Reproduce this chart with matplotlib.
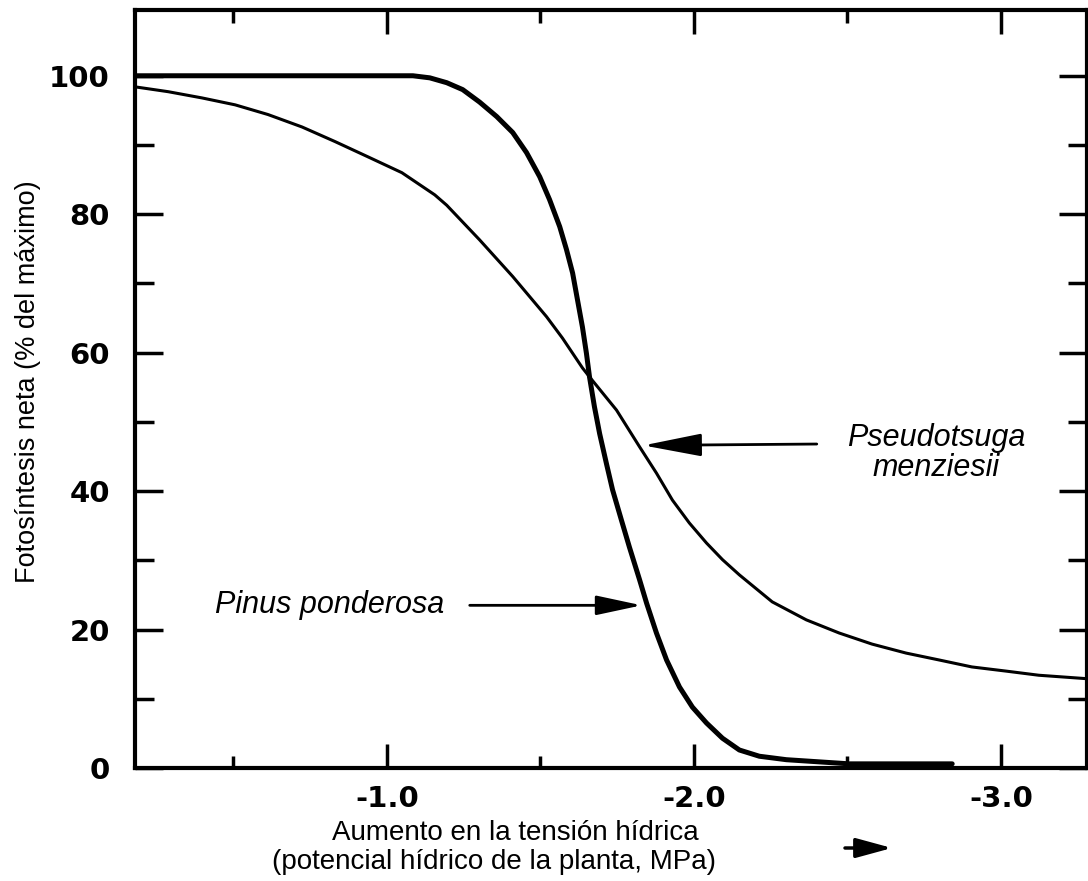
import matplotlib
matplotlib.use('Agg')
import matplotlib.pyplot as plt

# potencial hídrico (MPa) y fotosíntesis neta (% del máximo)
pinus_x = [-0.18, -0.72, -0.98, -1.085, -1.14, -1.195, -1.247, -1.302, -1.358, -1.41, -1.455,
           -1.498, -1.53, -1.563, -1.585, -1.605, -1.621, -1.637, -1.65, -1.66, -1.676, -1.693,
           -1.715, -1.735, -1.764, -1.79, -1.823, -1.846, -1.878, -1.911, -1.953, -1.995, -2.041,
           -2.093, -2.148, -2.213, -2.301, -2.506, -2.841]
pinus_y = [100, 100, 100, 100, 99.7, 99.0, 98.0, 96.2, 94.1, 91.8, 88.9,
           85.4, 82.1, 78.2, 74.9, 71.5, 67.6, 63.7, 59.9, 56.5, 52.2, 48.3,
           44.0, 40.2, 35.8, 31.9, 27.2, 23.8, 19.5, 15.6, 11.7, 8.8, 6.5,
           4.3, 2.6, 1.7, 1.2, 0.6, 0.6]

pseudo_x = [-0.18, -0.288, -0.398, -0.506, -0.613, -0.724, -0.831, -0.938, -1.049, -1.156, -1.195,
            -1.302, -1.41, -1.52, -1.572, -1.637, -1.66, -1.748, -1.823, -1.878, -1.93, -1.985,
            -2.041, -2.093, -2.148, -2.255, -2.366, -2.473, -2.58, -2.691, -2.799, -2.905, -3.016,
            -3.123, -3.28]
pseudo_y = [98.4, 97.7, 96.8, 95.8, 94.4, 92.6, 90.5, 88.3, 86.0, 82.8, 81.3,
            76.3, 71.0, 65.2, 62.1, 57.8, 56.5, 51.7, 46.4, 42.6, 38.7, 35.4,
            32.5, 30.1, 27.9, 24.0, 21.4, 19.5, 17.9, 16.6, 15.6, 14.6, 14.0,
            13.4, 12.9]

x_major = [-1.0, -2.0, -3.0]
x_major_labels = ['-1.0', '-2.0', '-3.0']
x_minor = [-0.5, -1.5, -2.5]
y_major = [0, 20, 40, 60, 80, 100]
y_minor = [10, 30, 50, 70, 90]

fig = plt.figure(figsize=(10.88, 8.81), dpi=100)
ax = fig.add_axes([135 / 1088, 1 - 768 / 881, 952 / 1088, 758 / 881])

ax.plot(pinus_x, pinus_y, color='black', lw=3.6, solid_capstyle='round', solid_joinstyle='round')
ax.plot(pseudo_x, pseudo_y, color='black', lw=2.2, solid_capstyle='round', solid_joinstyle='round')

ax.set_xlim(-0.18, -3.28)
ax.set_ylim(0, 109.5)

ax.set_xticks(x_major)
ax.set_xticklabels(x_major_labels)
ax.set_xticks(x_minor, minor=True)
ax.set_yticks(y_major)
ax.set_yticks(y_minor, minor=True)

for s in ax.spines.values():
    s.set_linewidth(3)

ax.tick_params(axis='both', which='both', direction='in', top=True, right=True, width=2.5)
ax.tick_params(axis='x', which='major', length=17, pad=12)
ax.tick_params(axis='x', which='minor', length=9)
ax.tick_params(axis='y', which='major', length=20, pad=18)
ax.tick_params(axis='y', which='minor', length=14)
for lab in ax.get_xticklabels() + ax.get_yticklabels():
    lab.set_fontsize(21)
    lab.set_fontweight('bold')
    lab.set_family('DejaVu Sans')

fig.text(28 / 1088, 1 - 382 / 881, 'Fotosíntesis neta (% del máximo)', rotation=90,
         ha='center', va='center', fontsize=19.5, family='Liberation Sans')

# etiqueta del eje x en dos líneas y su flecha
fig.text(515 / 1088, 1 - 833 / 881, 'Aumento en la tensión hídrica', ha='center', va='center',
         fontsize=20, family='Liberation Sans')
fig.text(494 / 1088, 1 - 862 / 881, '(potencial hídrico de la planta, MPa)', ha='center', va='center',
         fontsize=20, family='Liberation Sans')
ax.annotate('', xy=(892 / 1088, 1 - 848 / 881), xytext=(845 / 1088, 1 - 848 / 881),
            xycoords='figure fraction', textcoords='figure fraction',
            arrowprops=dict(arrowstyle='-|>,head_length=1.1,head_width=0.3', lw=2.5, color='black',
                            mutation_scale=20, shrinkA=0, shrinkB=0))

# rótulos de las especies
ax.text(-0.815, 23.5, 'Pinus ponderosa', ha='center', va='center', fontsize=22,
        style='italic', family='Liberation Sans')
ax.annotate('', xy=(-1.83, 23.5), xytext=(-1.27, 23.5),
            arrowprops=dict(arrowstyle='-|>,head_length=1.4,head_width=0.3', lw=2, color='black',
                            mutation_scale=20, shrinkA=0, shrinkB=0))
ax.text(-2.79, 45.5, 'Pseudotsuga\nmenziesii', ha='center', va='center', fontsize=22,
        style='italic', family='Liberation Sans', linespacing=1.0)
ax.annotate('', xy=(-1.835, 46.6), xytext=(-2.40, 46.8),
            arrowprops=dict(arrowstyle='-|>,head_length=1.8,head_width=0.35', lw=2, color='black',
                            mutation_scale=20, shrinkA=0, shrinkB=0))

fig.savefig('out.png', dpi=100)
